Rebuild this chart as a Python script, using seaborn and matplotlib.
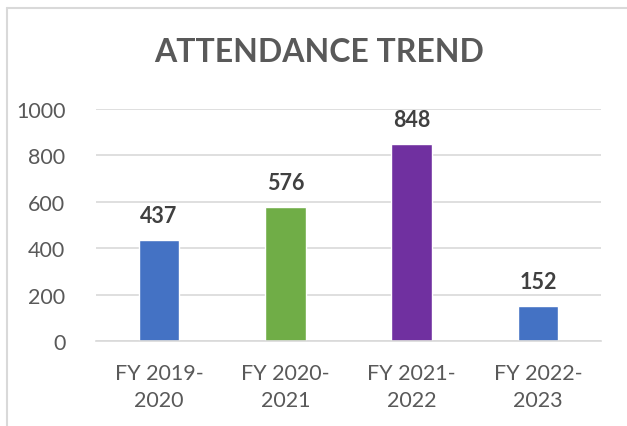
import matplotlib
matplotlib.use("Agg")
from matplotlib import pyplot as plt
from matplotlib.lines import Line2D
import seaborn as sns
import pandas as pd

# chart data
years = ["FY 2019-\n2020", "FY 2020-\n2021", "FY 2021-\n2022", "FY 2022-\n2023"]
attendance = [437, 576, 848, 152]
bar_colors = ["#4472C4", "#70AD47", "#7030A0", "#4472C4"]
y_ticks = [0, 200, 400, 600, 800, 1000]

df = pd.DataFrame({"year": years, "attendance": attendance})

sns.set_style("white")
plt.rcParams["font.family"] = ["Lato", "DejaVu Sans"]

fig = plt.figure(figsize=(6.27, 4.27), dpi=100)
ax = fig.add_axes([96 / 627, 1 - 342 / 427, 505 / 627, 232 / 427])

sns.barplot(data=df, x="year", y="attendance", hue="year", palette=bar_colors,
            width=0.32, legend=False, ax=ax, saturation=1)

ax.set_ylim(0, 1000)
ax.set_yticks(y_ticks)
ax.yaxis.grid(True, color="#d9d9d9", linewidth=1.2)
ax.set_axisbelow(True)
for s in ["top", "right", "left"]:
    ax.spines[s].set_visible(False)
ax.spines["bottom"].set_color("#d9d9d9")
ax.spines["bottom"].set_linewidth(1.2)
ax.tick_params(axis="both", length=0, labelsize=15.5, labelcolor="#595959")
ax.tick_params(axis="y", pad=22)
ax.tick_params(axis="x", pad=16)
for lbl in ax.get_xticklabels():
    lbl.set_linespacing(1.45)
ax.set_xlabel("")
ax.set_ylabel("")

for c in ax.containers:
    ax.bar_label(c, padding=10, fontsize=15.5, fontweight="bold", color="#404040")

fig.text(319 / 627, 1 - 52 / 427, "ATTENDANCE TREND",
         ha="center", va="center", fontsize=23, fontweight="bold", color="#595959")

# chart border (top and left edges visible)
fig.add_artist(Line2D([7 / 627, 1], [1 - 9 / 427, 1 - 9 / 427], color="#d9d9d9", lw=1.5))
fig.add_artist(Line2D([7 / 627, 7 / 627], [0, 1 - 9 / 427], color="#d9d9d9", lw=1.5))

fig.savefig("out.png", dpi=100)
